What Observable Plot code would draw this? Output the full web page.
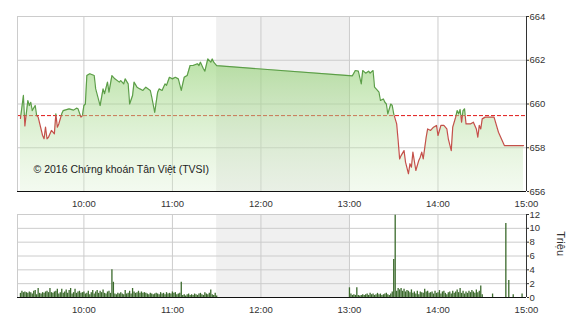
<!DOCTYPE html>
<html><head><meta charset="utf-8">
<script src="https://cdn.jsdelivr.net/npm/d3@7"></script>
<script src="https://cdn.jsdelivr.net/npm/@observablehq/plot@0.6"></script>
<style>
body{margin:0;background:#fff;}
#chart{position:relative;width:570px;height:320px;font-family:"Liberation Sans",Arial,sans-serif;}
#top{position:absolute;left:0;top:0}
#bottom{position:absolute;left:0;top:210px}
</style></head><body>
<div id="chart"><div id="top"></div><div id="bottom"></div></div>
<script>
const refValue = 659.47;
const priceTimes = ["09:17","09:19","09:20","09:22","09:23","09:24","09:25","09:27","09:28","09:29","09:32","09:33","09:34","09:35","09:36","09:38","09:40","09:41","09:42","09:43","09:45","09:46","09:50","09:53","09:55","09:56","09:58","09:59","10:00","10:01","10:02","10:04","10:07","10:08","10:11","10:13","10:14","10:16","10:17","10:19","10:21","10:24","10:25","10:27","10:28","10:30","10:31","10:33","10:34","10:36","10:38","10:40","10:42","10:45","10:46","10:48","10:50","10:51","10:53","10:55","10:56","10:58","11:00","11:02","11:04","11:06","11:08","11:10","11:12","11:14","11:17","11:18","11:19","11:21","11:22","11:24","11:26","11:27","11:28","11:30",
"13:02","13:04","13:06","13:08","13:09","13:11","13:13","13:14","13:16","13:17","13:19","13:20","13:21","13:23","13:24","13:25","13:26","13:28","13:29","13:30","13:31","13:32","13:33","13:34","13:35","13:37","13:38","13:40","13:41","13:42","13:43","13:45","13:47","13:48","13:49","13:50","13:52","13:53","13:55","13:57","13:59","14:00","14:02","14:04","14:06","14:07","14:09","14:10","14:12","14:13","14:14","14:15","14:16","14:17","14:18","14:19","14:22","14:24","14:26","14:27","14:28","14:29","14:30","14:32","14:38","14:41","14:45","14:58"];
const priceValues = [659.34,660.39,659.00,660.16,659.93,660.08,659.70,659.93,659.47,659.40,658.56,658.41,658.94,658.41,658.48,658.79,658.64,659.55,658.94,659.09,659.55,659.70,659.78,659.72,659.81,659.78,659.40,659.47,659.93,660.00,661.30,661.38,661.30,660.69,659.93,660.69,660.47,661.00,660.54,661.30,661.15,661.00,661.07,660.92,661.15,660.92,660.00,660.39,661.00,660.77,660.69,660.62,660.77,660.62,660.31,659.62,660.54,660.69,660.62,660.92,660.85,661.22,661.15,661.22,661.15,660.62,661.22,661.30,661.76,661.76,661.84,661.76,661.91,661.61,661.50,662.06,661.91,662.06,661.91,661.75,
661.29,661.53,661.50,660.92,661.53,661.41,661.50,661.41,661.53,660.77,660.62,660.54,660.16,660.23,660.08,660.00,659.55,660.00,659.93,659.55,659.32,659.09,658.33,657.49,657.64,657.87,657.34,656.81,657.27,657.11,657.80,656.96,657.42,657.57,657.80,657.49,658.48,658.86,658.79,658.94,659.02,658.56,659.02,659.02,658.86,658.41,657.87,658.94,659.40,659.70,659.55,659.75,659.17,659.70,659.78,659.09,659.09,659.17,658.86,658.48,659.02,658.86,659.32,659.40,659.40,658.71,658.10,658.10];
const volMorningStart = "09:17";
const volMorning = [0.6,0.9,0.7,0.8,0.7,0.6,0.8,0.7,0.5,0.9,
1.0,0.4,1.3,0.6,0.5,0.7,0.6,0.8,0.9,0.7,
1.3,0.7,0.6,0.8,0.9,1.2,0.5,0.7,1.2,0.6,
0.8,1.1,0.6,1.0,1.3,0.5,0.7,1.2,0.6,0.8,
0.9,0.6,0.7,0.8,0.5,0.6,0.9,0.4,0.7,1.0,
0.5,0.8,1.0,0.6,0.9,0.7,1.1,0.6,0.5,0.8,
0.9,0.6,4.0,2.2,0.5,0.4,0.6,0.5,0.7,0.5,
0.4,1.0,0.5,0.6,0.9,0.5,1.3,0.8,0.6,0.7,
0.9,0.6,0.8,0.6,0.7,0.6,0.5,0.4,0.6,0.5,
0.4,0.5,0.6,0.5,0.4,0.7,0.5,0.6,0.4,0.7,
0.5,0.6,0.5,0.8,0.6,0.7,0.4,0.5,0.6,2.2,
0.3,0.4,0.2,0.4,0.5,0.3,0.4,0.3,0.5,0.4,
0.3,0.5,0.6,0.4,0.3,0.7,0.5,0.4,0.6,1.1,
0.4,0.3,0.6,0.2];
const volAfternoonStart = "13:00";
const volAfternoon = [1.4,0.5,0.3,0.4,0.3,1.4,0.3,0.2,0.3,0.4,
0.3,0.4,0.5,0.3,0.6,0.4,0.5,0.3,0.4,0.6,
0.4,0.5,0.3,0.4,0.5,0.6,0.4,0.3,0.5,0.8,
5.5,11.9,0.9,1.3,1.1,1.3,0.9,1.2,0.8,1.0,
0.9,0.7,1.1,0.6,0.8,0.5,0.9,0.4,0.8,0.7,
0.6,1.2,0.8,0.9,0.6,0.7,0.8,0.5,0.9,0.6,
0.7,1.0,0.5,0.8,0.9,0.6,0.4,0.7,0.8,0.5,
0.9,0.6,0.8,1.1,0.7,1.3,0.6,0.9,0.5,0.8,
0.6,0.9,0.7,1.0,0.8,0.6,1.1,0.7,0.9,1.65,
0.4,0,0,0,0,0,0,0.5,0,0,
0,0,0,0,0,0,10.7,0,2.45,0,
0,0.4,0,0,0,0,0,0.5,0,0];
const hourTicks = ["10:00","11:00","12:00","13:00","14:00","15:00"];
const priceTicks = [656,658,660,662,664];
const volTicks = [0,2,4,6,8,10,12];
const lunchBreak = ["11:30","13:00"];
const sessionRange = ["09:15","15:00"];
const copyright = "© 2016 Chứng khoán Tân Việt (TVSI)";
const volLabel = "Triệu";

const T = s => { const [h,m] = s.split(":").map(Number); return new Date(Date.UTC(2016,0,1,h,m)); };
const addMin = (s,k) => new Date(T(s).getTime() + k*60000);
const price = priceTimes.map((t,i)=>({t:T(t), v:priceValues[i]}));
const vol = [...volMorning.map((v,i)=>({t:addMin(volMorningStart,i), v})),
             ...volAfternoon.map((v,i)=>({t:addMin(volAfternoonStart,i), v}))].filter(d=>d.v>0);
const xDomain = sessionRange.map(T);
const hours = hourTicks.map(T);
const fmt = d3.utcFormat("%H:%M");
const font = '"Liberation Sans", Arial, sans-serif';
const common = {width:570, marginLeft:17, marginRight:44,
  style:{fontFamily:font, fontSize:"9.5px", color:"#333", background:"transparent", overflow:"visible"}};
const xOpt = {type:"utc", domain:xDomain, ticks:hours, tickFormat:fmt, tickSize:0, tickPadding:9, label:null};

const topPlot = Plot.plot({
  ...common, height:210, marginTop:16, marginBottom:19,
  x: xOpt,
  y: {domain:[656,664], ticks:priceTicks, axis:"right", tickSize:2, tickPadding:1, label:null},
  marks: [
    Plot.rect([lunchBreak], {x1:d=>T(d[0]), x2:d=>T(d[1]), y1:656, y2:664, fill:"#f0f0f0"}),
    Plot.ruleY(priceTicks, {stroke:"#cccccc"}),
    Plot.ruleX(hours, {stroke:"#cccccc"}),
    Plot.ruleY([refValue], {stroke:"#e01818", strokeDasharray:"4,2"}),
    Plot.areaY(price, {x:"t", y1:656, y2:"v", fill:"#bde3a9"}),
    Plot.line(price, {x:"t", y:"v", stroke:"#5c9e48", strokeWidth:1.2}),
    Plot.line(price, {x:"t", y:"v", stroke:"#c4504a", strokeWidth:1.2}),
    Plot.ruleX([xDomain[0]], {stroke:"#cccccc"}),
    Plot.ruleX([xDomain[1]], {stroke:"#333"}),
    Plot.ruleY([656], {stroke:"#111"}),
    Plot.text([copyright], {text:d=>d, frameAnchor:"bottom-left", dx:16, dy:-22, textAnchor:"start", lineAnchor:"middle", fontSize:10.5, fill:"#222"})
  ]
});

// gradient + clip for above/below reference colouring
(function(){
  const svg = d3.select(topPlot);
  const yr = topPlot.scale("y").apply(refValue);
  const defs = svg.insert("defs", ":first-child");
  const g = defs.append("linearGradient").attr("id","areaGrad").attr("x1",0).attr("y1",0).attr("x2",0).attr("y2",1);
  g.append("stop").attr("offset","0%").attr("stop-color","#8fcf6f").attr("stop-opacity",0.62);
  g.append("stop").attr("offset","100%").attr("stop-color","#d8efcc").attr("stop-opacity",0.3);
  defs.append("clipPath").attr("id","clipAbove").append("rect").attr("x",0).attr("y",0).attr("width",570).attr("height",yr);
  defs.append("clipPath").attr("id","clipBelow").append("rect").attr("x",0).attr("y",yr).attr("width",570).attr("height",210-yr);
  const area = topPlot.querySelector('g[aria-label="area"]');
  if (area) { area.setAttribute("fill","url(#areaGrad)"); area.querySelectorAll("path").forEach(p=>p.setAttribute("fill","url(#areaGrad)")); }
  const lines = topPlot.querySelectorAll('g[aria-label="line"]');
  if (lines[0]) lines[0].setAttribute("clip-path","url(#clipAbove)");
  if (lines[1]) lines[1].setAttribute("clip-path","url(#clipBelow)");
})();
document.getElementById("top").append(topPlot);

const bottomPlot = Plot.plot({
  ...common, height:110, marginTop:4, marginBottom:23,
  x: xOpt,
  y: {domain:[0,12], ticks:volTicks, axis:"right", tickSize:2, tickPadding:1, label:null},
  marks: [
    Plot.rect([lunchBreak], {x1:d=>T(d[0]), x2:d=>T(d[1]), y1:0, y2:12, fill:"#f0f0f0"}),
    Plot.ruleY(volTicks, {stroke:"#cccccc"}),
    Plot.ruleX(hours, {stroke:"#cccccc"}),
    Plot.ruleX(vol, {x:"t", y1:0, y2:"v", stroke:"#3b6a2c", strokeWidth:1.3}),
    Plot.ruleX([xDomain[0]], {stroke:"#cccccc"}),
    Plot.ruleX([xDomain[1]], {stroke:"#333"}),
    Plot.ruleY([0], {stroke:"#111"}),
    Plot.text([volLabel], {text:d=>d, frameAnchor:"right", dx:34, rotate:90, fontSize:11, fill:"#333"})
  ]
});
document.getElementById("bottom").append(bottomPlot);
</script>
</body></html>
